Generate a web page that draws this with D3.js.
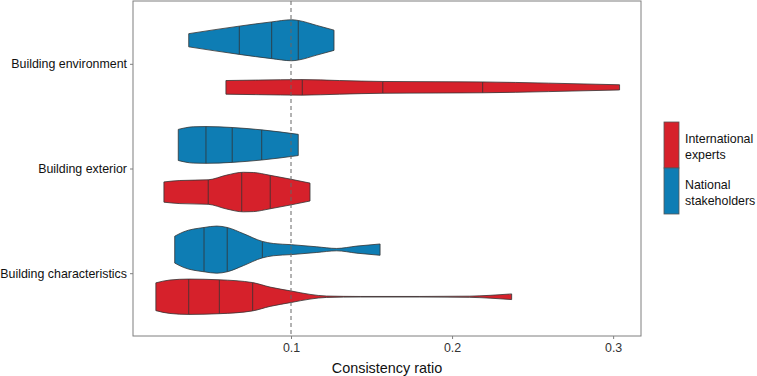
<!DOCTYPE html>
<html>
<head>
<meta charset="utf-8">
<script src="https://cdn.jsdelivr.net/npm/d3@7"></script>
<style>
  body { margin: 0; background: #fff; }
  text { font-family: "Liberation Sans", Arial, sans-serif; }
</style>
</head>
<body>
<div id="container"></div>
<script>
/* CONSTANTS AND GLOBALS */
const width = 757,
  height = 376,
  margin = { top: 1, right: 116, bottom: 40, left: 133 };

/* DATA */
const categories = ["Building environment", "Building exterior", "Building characteristics"];
const groups = ["National stakeholders", "International experts"];
const xTicks = [0.1, 0.2, 0.3];
const refLine = 0.1;

// violin outlines: [consistency ratio, relative density]
const envNational = [[0.0365,0.28],[0.0679,0.60],[0.088,0.78],[0.1004,0.87],[0.1045,0.84],[0.116,0.63],[0.1267,0.43]];
const envInternational = [[0.0596,0.29],[0.08,0.31],[0.107,0.33],[0.13,0.29],[0.157,0.25],[0.19,0.24],[0.219,0.23],[0.26,0.18],[0.304,0.11]];
const extNational = [[0.030,0.66],[0.0393,0.77],[0.0472,0.78],[0.0635,0.74],[0.0818,0.64],[0.1045,0.45]];
const extInternational = [[0.0211,0.43],[0.031,0.49],[0.0486,0.52],[0.060,0.72],[0.0704,0.84],[0.0766,0.83],[0.0871,0.71],[0.1118,0.38]];
const charNational = [[0.0278,0.57],[0.0331,0.75],[0.046,0.94],[0.0539,1.0],[0.0604,0.94],[0.0704,0.68],[0.0822,0.35],[0.089,0.26],[0.1004,0.21],[0.116,0.12],[0.1284,0.05],[0.1408,0.15],[0.1553,0.24]];
const charInternational = [[0.0161,0.59],[0.0248,0.71],[0.0365,0.75],[0.0555,0.72],[0.0762,0.60],[0.087,0.41],[0.1004,0.24],[0.1118,0.10],[0.122,0.03],[0.143,0.012],[0.18,0.012],[0.211,0.025],[0.2236,0.06],[0.237,0.12]];

// quartiles (25%, 50%, 75%)
const envNationalQ = [0.0679, 0.088, 0.1045];
const envInternationalQ = [0.107, 0.157, 0.219];
const extNationalQ = [0.0472, 0.0635, 0.0818];
const extInternationalQ = [0.0486, 0.0694, 0.0871];
const charNationalQ = [0.046, 0.0604, 0.0822];
const charInternationalQ = [0.0365, 0.0555, 0.0762];

const violins = [
  { cat: categories[0], group: groups[0], pts: envNational, q: envNationalQ },
  { cat: categories[0], group: groups[1], pts: envInternational, q: envInternationalQ },
  { cat: categories[1], group: groups[0], pts: extNational, q: extNationalQ },
  { cat: categories[1], group: groups[1], pts: extInternational, q: extInternationalQ },
  { cat: categories[2], group: groups[0], pts: charNational, q: charNationalQ },
  { cat: categories[2], group: groups[1], pts: charInternational, q: charInternationalQ }
];

const colors = { "International experts": "#d6212b", "National stakeholders": "#0e7db4" };

/* SCALES */
const xScale = d3.scaleLinear()
  .domain([0.0019, 0.3173])
  .range([margin.left, width - margin.right]);

const yScale = d3.scalePoint()
  .domain(categories)
  .range([margin.top, height - margin.bottom])
  .padding(0.6);

const step = yScale.step();
const dodge = d3.scalePoint().domain(groups).range([-0.225 * step, 0.225 * step]);
const wScale = d3.scaleLinear().domain([0, 1]).range([0, 0.225 * step]);

/* SVG */
const svg = d3.select("#container")
  .append("svg")
  .attr("width", width)
  .attr("height", height);

// VIOLINS
const area = d3.area()
  .curve(d3.curveMonotoneX)
  .x(d => xScale(d[0]));

function halfWidth(pts, v) {
  for (let i = 1; i < pts.length; i++) {
    if (v <= pts[i][0]) {
      const t = (v - pts[i-1][0]) / (pts[i][0] - pts[i-1][0]);
      return pts[i-1][1] + t * (pts[i][1] - pts[i-1][1]);
    }
  }
  return pts[pts.length - 1][1];
}

const vg = svg.selectAll(".violin")
  .data(violins)
  .join("g")
  .attr("class", "violin");

vg.append("path")
  .attr("fill", d => colors[d.group])
  .attr("stroke", "#333")
  .attr("stroke-width", 0.8)
  .attr("d", d => {
    const cy = yScale(d.cat) + dodge(d.group);
    return area.y0(p => cy - wScale(p[1])).y1(p => cy + wScale(p[1]))(d.pts);
  });

vg.selectAll(".q")
  .data(d => d.q.map(v => ({ v, d })))
  .join("line")
  .attr("class", "q")
  .attr("stroke", "#333")
  .attr("stroke-width", 0.8)
  .attr("x1", e => xScale(e.v))
  .attr("x2", e => xScale(e.v))
  .attr("y1", e => yScale(e.d.cat) + dodge(e.d.group) - wScale(halfWidth(e.d.pts, e.v)))
  .attr("y2", e => yScale(e.d.cat) + dodge(e.d.group) + wScale(halfWidth(e.d.pts, e.v)));

// REFERENCE LINE
svg.append("line")
  .attr("x1", xScale(refLine))
  .attr("x2", xScale(refLine))
  .attr("y1", margin.top)
  .attr("y2", height - margin.bottom)
  .attr("stroke", "#666")
  .attr("stroke-width", 1)
  .attr("stroke-dasharray", "4,3");

// PANEL BORDER
svg.append("rect")
  .attr("x", margin.left)
  .attr("y", margin.top)
  .attr("width", width - margin.right - margin.left)
  .attr("height", height - margin.bottom - margin.top)
  .attr("fill", "none")
  .attr("stroke", "#7f7f7f")
  .attr("stroke-width", 1);

// AXES
const xAxis = svg.append("g")
  .attr("class", "x-axis")
  .attr("transform", `translate(0, ${height - margin.bottom})`)
  .call(d3.axisBottom(xScale).tickValues(xTicks).tickSize(3).tickPadding(4).tickFormat(d3.format(".1f")));
xAxis.select(".domain").remove();
xAxis.selectAll("line").attr("stroke", "#7f7f7f");
xAxis.selectAll("text").attr("font-size", 12.4).attr("fill", "#333")
  .style("font-family", "'Liberation Sans', Arial, sans-serif");

const yAxis = svg.append("g")
  .attr("class", "y-axis")
  .attr("transform", `translate(${margin.left}, 0)`)
  .call(d3.axisLeft(yScale).tickSize(3).tickPadding(3));
yAxis.select(".domain").remove();
yAxis.selectAll("line").attr("stroke", "#7f7f7f");
yAxis.selectAll("text").attr("font-size", 12.4).attr("fill", "#111")
  .style("font-family", "'Liberation Sans', Arial, sans-serif");

svg.append("text")
  .attr("x", (margin.left + width - margin.right) / 2)
  .attr("y", 373)
  .attr("text-anchor", "middle")
  .attr("font-size", 14.4)
  .attr("fill", "#111")
  .text("Consistency ratio");

// LEGEND
const legendItems = [
  { group: "International experts", lines: ["International", "experts"] },
  { group: "National stakeholders", lines: ["National", "stakeholders"] }
];
const legend = svg.append("g").attr("transform", "translate(664, 122)");
legendItems.forEach((item, i) => {
  const g = legend.append("g").attr("transform", `translate(0, ${i * 46})`);
  g.append("rect")
    .attr("width", 15).attr("height", 46)
    .attr("fill", colors[item.group])
    .attr("stroke", "#555").attr("stroke-width", 0.8);
  g.append("text")
    .attr("x", 21).attr("y", 21)
    .attr("font-size", 12.4).attr("fill", "#111")
    .selectAll("tspan")
    .data(item.lines)
    .join("tspan")
    .attr("x", 21)
    .attr("dy", (d, j) => j === 0 ? 0 : 16)
    .text(d => d);
});
</script>
</body>
</html>
